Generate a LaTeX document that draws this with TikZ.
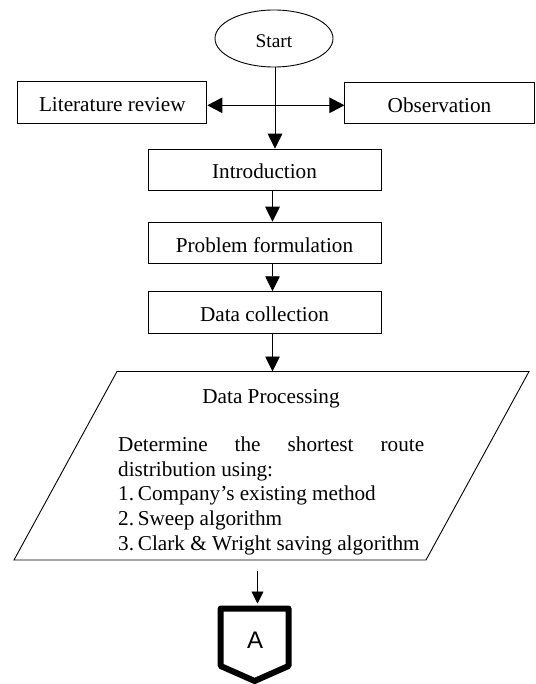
\documentclass[tikz,border=0pt]{standalone}
\usepackage{fontspec}
\setmainfont{Liberation Serif}
\newfontfamily\sansA{Liberation Sans}
\usetikzlibrary{arrows.meta,shapes.geometric}
\begin{document}
\begin{tikzpicture}[x=1pt,y=-1pt,
  every node/.style={inner sep=0pt},
  mainfont/.style={font=\fontsize{21.2}{24.6}\selectfont},
  box/.style={draw, line width=0.9pt, minimum width=233pt, minimum height=41.6pt,
              text height=18pt, text depth=0pt, mainfont},
  sidebox/.style={box, minimum width=189.2pt, minimum height=41.3pt},
  arr/.style={line width=0.9pt, -{Triangle[length=15pt,width=14.5pt]}},
  arrboth/.style={line width=0.9pt, {Triangle[length=15pt,width=15.5pt]}-{Triangle[length=15pt,width=15.5pt]}},
  arrsmall/.style={line width=0.9pt, -{Triangle[length=12pt,width=12pt]}},
]
\useasboundingbox (0,0) rectangle (535,684);

% nodes
\node[ellipse, draw, line width=0.9pt, minimum width=118pt, minimum height=57pt,
      text height=18pt, text depth=0pt, font=\fontsize{19.4}{22}\selectfont] (start) at (274,38.5) {Start};
\node[sidebox] (lit) at (112.3,102.4) {Literature review};
\node[sidebox] (obs) at (439.5,103.3) {Observation};
\node[box] (intro) at (264.5,170) {Introduction};
\node[box] (prob) at (264.5,243) {Problem formulation};
\node[box] (dc) at (264.5,312.5) {Data collection};

% parallelogram
\coordinate (p1) at (117,371.5);
\coordinate (p2) at (529,371.5);
\coordinate (p3) at (426,560);
\coordinate (p4) at (14,560);
\draw[line width=0.9pt] (p1) -- (p2) -- (p3) -- (p4) -- cycle;
\coordinate (ptop) at (272.5,371.5);
\node[anchor=base, mainfont] (dp) at (271,403) {Data Processing};
\node[anchor=base west, mainfont] (dpbody) at (118,451.7) {\vtop{\baselineskip=24.6pt
  \hbox to 306pt{Determine\hfill the\hfill shortest\hfill route}%
  \hbox{distribution using:}%
  \hbox{\hbox to 19.7pt{1.\hss}Company’s existing method}%
  \hbox{\hbox to 19.7pt{2.\hss}Sweep algorithm}%
  \hbox{\hbox to 19.7pt{3.\hss}Clark \& Wright saving algorithm}}};

% off-page connector
\node[font=\sansA\fontsize{24}{28}\selectfont] (A) at (255,640) {A};
\draw[line width=6pt, line join=round] (220.7,608.5) -- (288.5,608.5) -- (288.5,666) -- (254.6,681) -- (220.7,666) -- cycle;
\coordinate (Atop) at (257.5,603.5);
\coordinate (pbot) at (257.5,571);

% connectors
\coordinate (vx) at (275,0);
\coordinate (ax) at (272.5,0);
\coordinate (hy) at (0,105.3);
\draw[arr] (start.south -| vx) -- (intro.north -| vx);
\draw[arrboth] (lit.east |- hy) -- (obs.west |- hy);
\draw[arr] (intro.south -| ax) -- (prob.north -| ax);
\draw[arr] (prob.south -| ax) -- (dc.north -| ax);
\draw[arr] (dc.south -| ax) -- (ptop);
\draw[arrsmall] (pbot) -- (Atop);
\end{tikzpicture}
\end{document}
